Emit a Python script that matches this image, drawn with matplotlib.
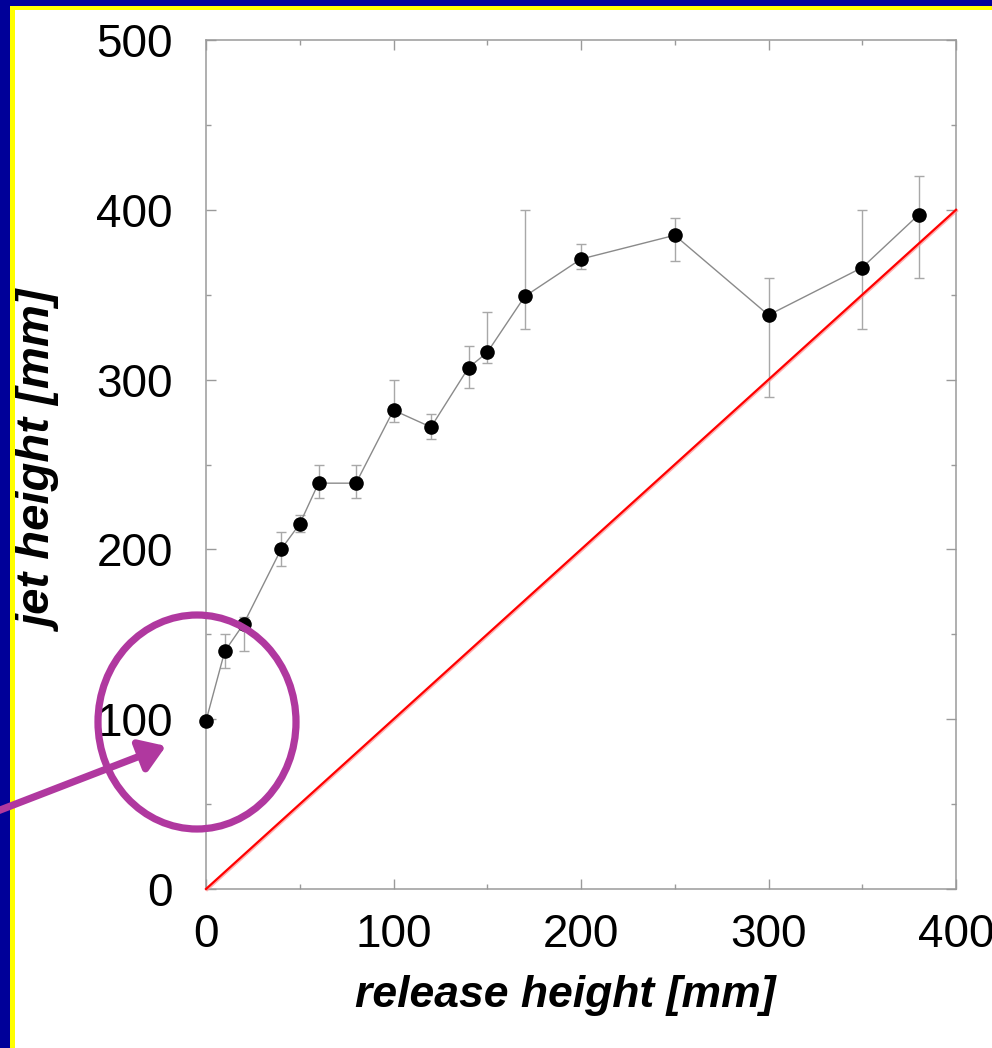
"""Jet height versus release height, gnuplot-style slide figure."""

import matplotlib

matplotlib.use("Agg")

from matplotlib import patches
from matplotlib import patheffects as pe
from matplotlib import pyplot as plt
from matplotlib import ticker

# measured data (mm)
release_height = [0, 10, 20, 40, 50, 60, 80, 100, 120, 140, 150, 170, 200, 250, 300, 350, 380]
jet_height = [99, 140, 156, 200, 215, 239, 239, 282, 272, 307, 316, 349, 371, 385, 338, 366, 397]
jet_low = [99, 130, 140, 190, 210, 230, 230, 275, 265, 295, 310, 330, 365, 370, 290, 330, 360]
jet_high = [99, 150, 160, 210, 220, 250, 250, 300, 280, 320, 340, 400, 380, 395, 360, 400, 420]

# reference line y = x
ref_x = [0, 400]
ref_y = [0, 400]

x_ticks = [0, 100, 200, 300, 400]
y_ticks = [0, 100, 200, 300, 400, 500]

COLOR_NAVY = "#000099"
COLOR_YELLOW = "#ffff00"
COLOR_AXIS = "#9a9a9a"
COLOR_PURPLE = "#b0389f"

W, H = 992, 1048

plt.rcParams["font.family"] = ["Liberation Sans", "DejaVu Sans"]

fig = plt.figure(figsize=(W / 100, H / 100), dpi=100, facecolor="white")
ax = fig.add_axes([206 / W, 1 - 889 / H, 750 / W, 849 / H])

err_lo = [y - lo for y, lo in zip(jet_height, jet_low)]
err_hi = [hi - y for y, hi in zip(jet_height, jet_high)]
ax.errorbar(
    release_height,
    jet_height,
    yerr=[err_lo, err_hi],
    fmt="none",
    ecolor="#a8a8a8",
    elinewidth=1.0,
    capsize=3.5,
    capthick=1.0,
    zorder=2,
)
ax.plot(release_height, jet_height, color="#8a8a8a", lw=1.0, zorder=3)
ax.plot(
    release_height,
    jet_height,
    "o",
    color="black",
    markersize=10.5,
    markeredgewidth=0,
    zorder=4,
    clip_on=False,
)
ax.plot(
    ref_x,
    ref_y,
    color="#ff0000",
    lw=1.6,
    zorder=5,
    clip_on=False,
    path_effects=[
        pe.SimpleLineShadow(offset=(0.8, -0.8), shadow_color="#ff9090", alpha=0.7),
        pe.Normal(),
    ],
)

ax.set_xlim(0, 400)
ax.set_ylim(0, 500)
ax.xaxis.set_major_locator(ticker.FixedLocator(x_ticks))
ax.yaxis.set_major_locator(ticker.FixedLocator(y_ticks))
ax.xaxis.set_minor_locator(ticker.MultipleLocator(50))
ax.yaxis.set_minor_locator(ticker.MultipleLocator(50))
ax.tick_params(
    which="both",
    direction="in",
    top=True,
    right=True,
    color=COLOR_AXIS,
    width=1.0,
    labelsize=33,
)
ax.tick_params(which="major", length=7)
ax.tick_params(which="minor", length=3.5)
ax.tick_params(axis="x", which="major", pad=17)
ax.tick_params(axis="y", which="major", pad=24)
for spine in ax.spines.values():
    spine.set_color(COLOR_AXIS)
    spine.set_linewidth(1.1)

ax.set_xlabel("release height [mm]", fontsize=32, fontweight="bold", style="italic")
ax.xaxis.set_label_coords((565 - 206) / 750, (889 - 995) / 849)
ax.xaxis.label.set_va("center")
ax.set_ylabel("jet height [mm]", fontsize=34, fontweight="bold", style="italic")
ax.yaxis.set_label_coords((42 - 206) / 750, (889 - 463) / 849)
ax.yaxis.label.set_va("center")

# slide frame: navy band with a yellow inner line on the left and top edges
fig.add_artist(patches.Rectangle((0, 0), 10 / W, 1, transform=fig.transFigure,
                                 facecolor=COLOR_NAVY, edgecolor="none", zorder=10))
fig.add_artist(patches.Rectangle((10 / W, 0), 5 / W, 1 - 6 / H, transform=fig.transFigure,
                                 facecolor=COLOR_YELLOW, edgecolor="none", zorder=10))
fig.add_artist(patches.Rectangle((0, 1 - 6 / H), 1, 6 / H, transform=fig.transFigure,
                                 facecolor=COLOR_NAVY, edgecolor="none", zorder=10))
fig.add_artist(patches.Rectangle((10 / W, 1 - 10 / H), 1, 4 / H, transform=fig.transFigure,
                                 facecolor=COLOR_YELLOW, edgecolor="none", zorder=10))

# purple highlight circle and arrow
fig.add_artist(patches.Ellipse((197 / W, 1 - 722 / H), 198 / W, 214 / H,
                               transform=fig.transFigure, facecolor="none",
                               edgecolor=COLOR_PURPLE, lw=5.2, zorder=11))
fig.add_artist(patches.FancyArrowPatch(
    (-5 / W, 1 - 812 / H), (166 / W, 1 - 746 / H),
    transform=fig.transFigure,
    arrowstyle="-|>,head_length=15,head_width=10",
    mutation_scale=1,
    color=COLOR_PURPLE,
    lw=5.2,
    shrinkA=0,
    shrinkB=0,
    zorder=11,
))

fig.savefig("out.png", dpi=100, facecolor="white")
